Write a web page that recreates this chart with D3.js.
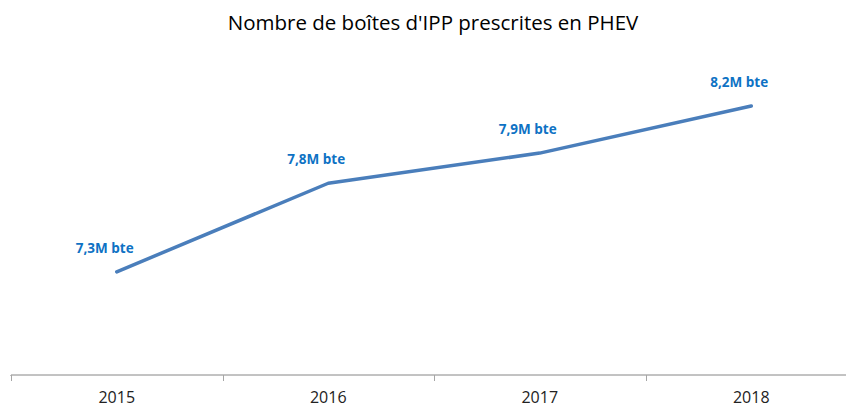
<!DOCTYPE html>
<html>
<head>
<meta charset="utf-8">
<script src="https://cdn.jsdelivr.net/npm/d3@7"></script>
<style>
  body { margin: 0; background: #fff; }
  svg { display: block; font-family: "Open Sans", "Noto Sans", sans-serif; }
</style>
</head>
<body>
<svg id="chart" width="846" height="410"></svg>
<script>
// Data
const years = ["2015", "2016", "2017", "2018"];
const boxes = [7.30, 7.77, 7.93, 8.18];            // millions of boxes
const labels = ["7,3M bte", "7,8M bte", "7,9M bte", "8,2M bte"];

const svg = d3.select("svg#chart");

const x = d3.scaleBand().domain(years).range([11, 857]);
const y = d3.scaleLinear().domain([6.75, 8.53]).range([375.5, 40]);

// Title
svg.append("text")
    .attr("x", 433)
    .attr("y", 30)
    .attr("text-anchor", "middle")
    .attr("font-size", 20.5)
    .attr("fill", "#000")
    .text("Nombre de boîtes d'IPP prescrites en PHEV");

// X axis
const xAxis = svg.append("g")
    .attr("transform", "translate(0,375.5)")
    .call(d3.axisBottom(x).tickSize(0).tickPadding(16));
xAxis.select(".domain").attr("stroke", "#868686").attr("d", "M11,0.5V-0.5H846");
xAxis.selectAll("text")
    .attr("font-size", 16)
    .attr("fill", "#222")
    .attr("font-family", "'Open Sans', sans-serif");

// tick marks at band boundaries
const bounds = years.map(d => x(d));
svg.append("g")
    .selectAll("line")
    .data(bounds)
    .enter()
    .append("line")
    .attr("x1", d => Math.round(d) + 0.5)
    .attr("x2", d => Math.round(d) + 0.5)
    .attr("y1", 375)
    .attr("y2", 381)
    .attr("stroke", "#a6a6a6");

// Line
const pts = years.map((d, i) => [x(d) + x.bandwidth() / 2, y(boxes[i])]);
const line = d3.line();

svg.append("path")
    .datum(pts)
    .attr("d", line)
    .attr("fill", "none")
    .attr("stroke", "#4a7ebb")
    .attr("stroke-width", 3.5)
    .attr("stroke-linejoin", "round")
    .attr("stroke-linecap", "round");

// Data labels
svg.append("g")
    .selectAll("text")
    .data(pts)
    .enter()
    .append("text")
    .attr("x", d => d[0] - 12)
    .attr("y", d => d[1] - 19)
    .attr("text-anchor", "middle")
    .attr("font-size", 13.5)
    .attr("font-weight", "bold")
    .attr("fill", "#0e72c4")
    .text((d, i) => labels[i]);
</script>
</body>
</html>
